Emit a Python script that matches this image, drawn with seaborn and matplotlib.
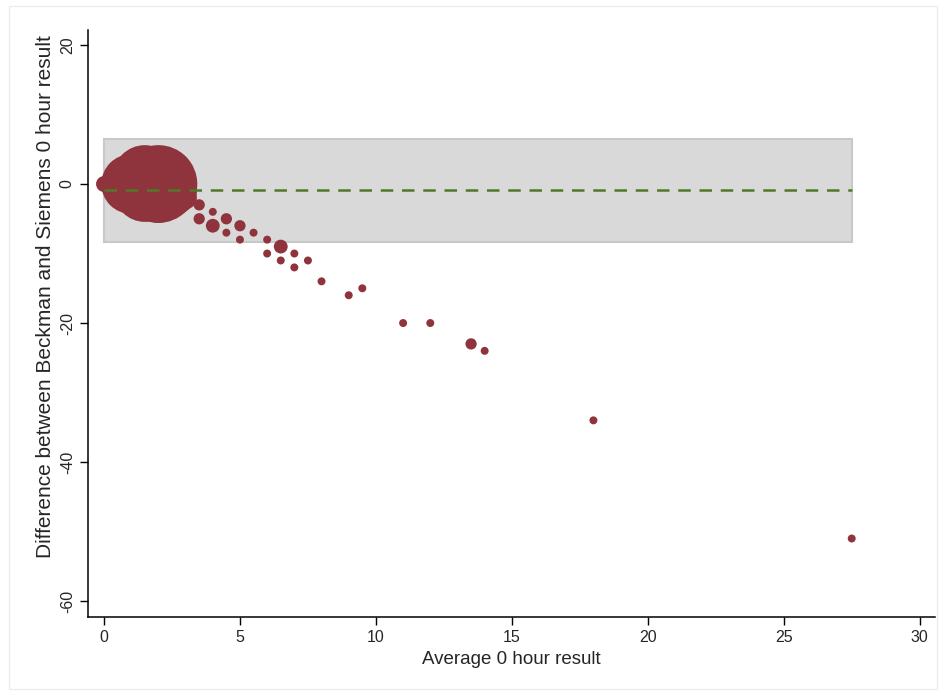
import pandas as pd
import matplotlib.pyplot as plt
import seaborn as sns
from matplotlib.patches import Rectangle

# average of the two assays, difference between them, and number of patients at each point
avg_result = [0, 1, 1.5, 2, 1.5, 2.5, 2, 3, 3.5, 3.5, 4, 4, 4.5, 4.5, 5, 5, 5.5, 6, 6,
              6.5, 6.5, 7, 7, 7.5, 8, 9, 9.5, 11, 12, 13.5, 14, 18, 27.5]
diff_result = [0, 0, 1, 0, -1, -1, -2, -2, -3, -5, -4, -6, -5, -7, -6, -8, -7, -8, -10,
               -9, -11, -10, -12, -11, -14, -16, -15, -20, -20, -23, -24, -34, -51]
n_patients = [4, 56, 64, 95, 60, 39, 39, 8, 2, 2, 1, 3, 2, 1, 2, 1, 1, 1, 1,
              3, 1, 1, 1, 1, 1, 1, 1, 1, 1, 2, 1, 1, 1]

mean_diff = -0.8
loa_upper = 6.5
loa_lower = -8.3
band_end = 27.5

df = pd.DataFrame({"avg": avg_result, "diff": diff_result, "n": n_patients})

sns.set_style("ticks")
plt.rcParams["font.family"] = ["Liberation Sans", "DejaVu Sans"]
plt.rcParams["axes.unicode_minus"] = False

fig = plt.figure(figsize=(9.46, 6.91), dpi=100)
ax = fig.add_axes([0.093, 0.107, 0.895, 0.85])

# limits of agreement band
ax.add_patch(Rectangle((0, loa_lower), band_end, loa_upper - loa_lower,
                       facecolor="#d9d9d9", edgecolor="#c8c8c8", lw=1.5, zorder=1))

sns.scatterplot(data=df, x="avg", y="diff", size="n", sizes=(0, 3300), size_norm=(0, 100),
                color="#8f343c", edgecolor="none", alpha=1, legend=False, ax=ax, zorder=2)

ax.plot([0, band_end], [mean_diff, mean_diff], color="#4f7a28", lw=1.8,
        dashes=(5, 3.5), zorder=3)

ax.set_xlim(-0.59, 30.55)
ax.set_ylim(-62.3, 22.2)
ax.set_xticks(range(0, 31, 5))
ax.set_yticks(range(-60, 21, 20))
ax.tick_params(axis="both", labelsize=11.5, length=6, width=1, direction="out", color="black")
for lab in ax.get_yticklabels():
    lab.set_rotation(90)
    lab.set_va("center")
sns.despine(ax=ax)
for sp in ["left", "bottom"]:
    ax.spines[sp].set_linewidth(1.1)
    ax.spines[sp].set_color("black")

ax.set_xlabel("Average 0 hour result", fontsize=13.5, labelpad=4)
ax.set_ylabel("Difference between Beckman and Siemens 0 hour result", fontsize=15)
ax.yaxis.set_label_coords(-0.039, 0.545)

# light outer frame like the graph region
fig.add_artist(Rectangle((0.009, 0.003), 0.982, 0.989, transform=fig.transFigure,
                         fill=False, edgecolor="#e6eef0", lw=1))

fig.savefig("out.png", dpi=100)
